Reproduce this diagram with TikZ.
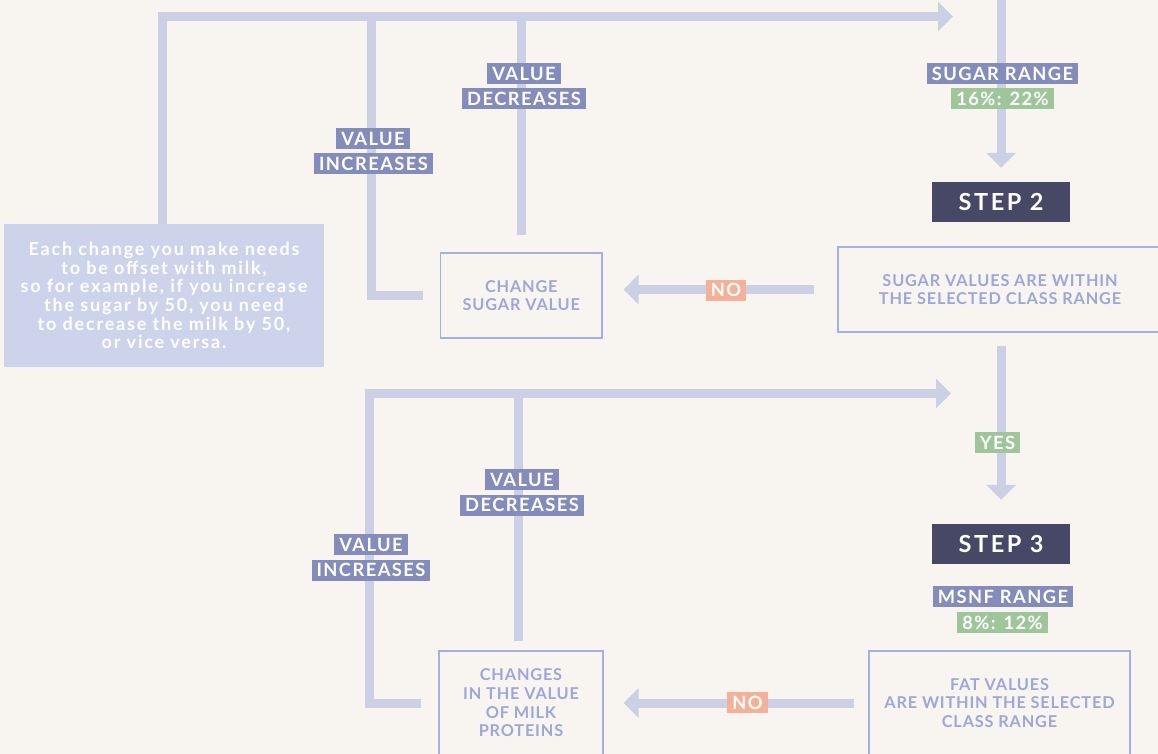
\documentclass[tikz,border=0pt]{standalone}
\usepackage{fontspec}
\setmainfont{Lato}
\newfontfamily\lblfont[LetterSpace=8]{Lato}
\newfontfamily\boxfont[LetterSpace=5]{Lato}
\newfontfamily\notefont[LetterSpace=10]{Lato}
\newfontfamily\stepfont[LetterSpace=11]{Lato}
\usetikzlibrary{arrows.meta}
\definecolor{bgc}{HTML}{F8F5F0}
\definecolor{connc}{HTML}{CBD0E4}
\definecolor{lblc}{HTML}{848CBC}
\definecolor{greenc}{HTML}{9FC69B}
\definecolor{salmonc}{HTML}{F5B197}
\definecolor{darkc}{HTML}{474766}
\definecolor{boxb}{HTML}{A5B0E0}
\definecolor{boxt}{HTML}{9CA7DA}
\definecolor{notec}{HTML}{CDD3EB}
\tikzset{
  conn/.style={draw=connc, line width=9pt, line join=miter},
  headed/.style={-{Triangle[length=15pt,width=29pt]}},
  lbl/.style={fill=lblc, text=white, font=\lblfont\bfseries\fontsize{18.3}{18.5}\selectfont,
    inner xsep=5pt, inner ysep=0pt, minimum height=21pt, text height=13.1pt, text depth=0pt},
  lblg/.style={lbl, fill=greenc},
  lbls/.style={lbl, fill=salmonc},
  stepbox/.style={fill=darkc, text=white, font=\stepfont\bfseries\fontsize{23.5}{24}\selectfont,
    minimum width=138pt, minimum height=40pt, inner sep=0pt, text height=16.8pt, text depth=0pt},
  infobox/.style={draw=boxb, line width=1.3pt, text=boxt, fill=bgc, align=center,
    font=\boxfont\bfseries\fontsize{16.3}{18.7}\selectfont, inner sep=0pt},
  notebox/.style={fill=notec, text=white, align=center, inner sep=0pt,
    font=\notefont\bfseries\fontsize{18}{18.7}\selectfont}
}
\begin{document}
\begin{tikzpicture}[x=1pt,y=-1pt]
\useasboundingbox[fill=bgc] (0,0) rectangle (1158,754);

% boxes
\node[notebox, minimum width=320pt, minimum height=143pt] (note) at (164,295.5)
  {Each change you make needs\\to be offset with milk,\\so for example, if you increase\\the sugar by 50, you need\\to decrease the milk by 50,\\or vice versa.};
\node[infobox, minimum width=161.4pt, minimum height=85pt] (changesugar) at (521.3,295.5)
  {CHANGE\\SUGAR VALUE};
\node[infobox, minimum width=324pt, minimum height=85pt] (sugarbox) at (1000,289.5)
  {SUGAR VALUES ARE WITHIN\\THE SELECTED CLASS RANGE};
\node[stepbox] (step2) at (1001,202) {STEP 2};
\node[stepbox] (step3) at (1001,544) {STEP 3};
\node[infobox, minimum width=261pt, minimum height=104pt] (fatbox) at (999.5,703)
  {FAT VALUES\\ARE WITHIN THE SELECTED\\CLASS RANGE};
\node[infobox, minimum width=164pt, minimum height=104pt] (milkbox) at (521,703)
  {CHANGES\\IN THE VALUE\\OF MILK\\PROTEINS};

% coordinates
\coordinate (tl) at (162,16.5);
\coordinate (tm) at (371,16.5);
\coordinate (tr) at (521.5,16.5);
\coordinate (t1end) at (953,16.5);
\coordinate (topR) at (1000,-5);
\coordinate (bl) at (369,393.5);
\coordinate (br) at (518.5,393.5);
\coordinate (t2end) at (951,393.5);

% connectors, top section
\draw[conn, headed] (note.north -| tl) -- (tl) -- (t1end);
\draw[conn, shorten >=16.5pt] (tm) -- (tm |- changesugar.west) -- (changesugar.west);
\draw[conn, shorten >=17pt] (tr) -- (tr |- changesugar.north);
\draw[conn, headed, shorten >=14pt] (step2.north |- topR) -- (step2.north);
\draw[conn, headed, shorten <=23pt, shorten >=21pt] (sugarbox.west) -- (changesugar.east |- sugarbox.west);
\draw[conn, headed, shorten <=13pt, shorten >=24pt] (sugarbox.south -| step3.north) -- (step3.north);

% connectors, bottom section
\draw[conn, headed, shorten <=17pt] (milkbox.west) -- (bl |- milkbox.west) -- (bl) -- (t2end);
\draw[conn, shorten >=9pt] (br) -- (br |- milkbox.north);
\draw[conn, headed, shorten <=14pt, shorten >=20pt] (fatbox.west) -- (milkbox.east |- fatbox.west);

% labels
\node[lbl] (dec1a) at (524,73.5) {VALUE};
\node[lbl] (dec1b) at (524,98.5) {DECREASES};
\node[lbl] (inc1a) at (373,138.5) {VALUE};
\node[lbl] (inc1b) at (373.5,163.5) {INCREASES};
\node[lbl] (sugarrange) at (1002.5,73.5) {SUGAR RANGE};
\node[lblg] (sugarpct) at (1002.5,99) {16\%: 22\%};
\node[lbls] (no1) at (726,290) {NO};
\node[lblg] (yes) at (997.5,442.5) {YES};
\node[lbl] (msnfrange) at (1003,596.5) {MSNF RANGE};
\node[lblg] (msnfpct) at (1002.5,622.5) {8\%: 12\%};
\node[lbls] (no2) at (747.5,702.5) {NO};
\node[lbl] (dec2a) at (522,479.5) {VALUE};
\node[lbl] (dec2b) at (522,505) {DECREASES};
\node[lbl] (inc2a) at (371,544.5) {VALUE};
\node[lbl] (inc2b) at (371,570) {INCREASES};
\end{tikzpicture}
\end{document}
